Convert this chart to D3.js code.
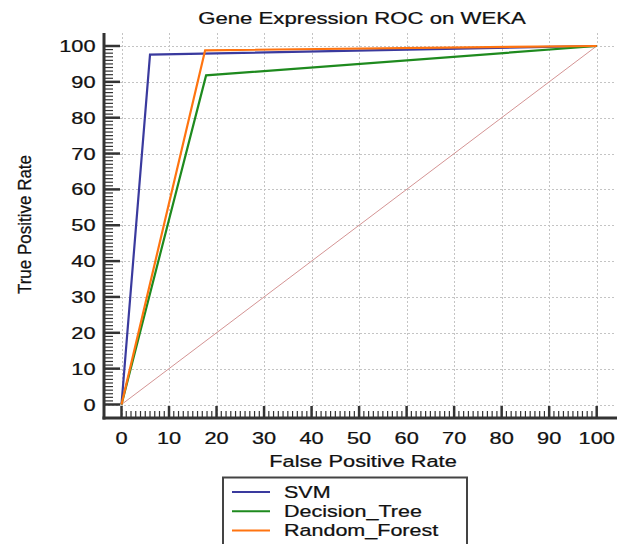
<!DOCTYPE html>
<html>
<head>
<meta charset="utf-8">
<script src="https://cdn.jsdelivr.net/npm/d3@7"></script>
<style>
  html, body { margin: 0; padding: 0; background: #fff; }
  svg { display: block; font-family: "Liberation Sans", Arial, sans-serif; }
  text { fill: #111; stroke: #111; stroke-width: 0.25; }
</style>
</head>
<body>
<svg id="chart" width="626" height="544"></svg>
<script>
// ROC curves (false positive rate %, true positive rate %)
const seriesNames = ["SVM", "Decision_Tree", "Random_Forest"];
const seriesColors = ["#3a3a9e", "#1e8a1e", "#ff7410"];
const svmFpr = [0, 6, 100];
const svmTpr = [0, 97.6, 100];
const treeFpr = [0, 17.8, 100];
const treeTpr = [0, 91.8, 100];
const forestFpr = [0, 17.6, 100];
const forestTpr = [0, 98.8, 100];
const tickValues = [0, 10, 20, 30, 40, 50, 60, 70, 80, 90, 100];

const svg = d3.select("#chart");
const x = d3.scaleLinear().domain([0, 100]).range([121.5, 596.7]);
const y = d3.scaleLinear().domain([0, 100]).range([404.5, 46]);

const axisLeftX = 104, axisBottomY = 418, topY = 33, rightX = 616;
const WIDE = 1.32; // horizontal stretch of the label glyphs

// places a horizontally widened text label at (px, py)
function label(parent, px, py, str, size, anchor) {
  return parent.append("text")
    .attr("transform", `translate(${px},${py}) scale(${WIDE},1)`)
    .attr("text-anchor", anchor || "start")
    .attr("font-size", size)
    .text(str);
}

// dotted grid
const grid = svg.append("g").attr("stroke", "#c4c4c4").attr("stroke-width", 1)
  .attr("stroke-dasharray", "2,2");
grid.selectAll(".gv").data(tickValues).join("line")
  .attr("x1", d => Math.round(x(d)) + 0.5).attr("x2", d => Math.round(x(d)) + 0.5)
  .attr("y1", topY).attr("y2", axisBottomY);
grid.selectAll(".gh").data(tickValues).join("line")
  .attr("y1", d => Math.round(y(d)) + 0.5).attr("y2", d => Math.round(y(d)) + 0.5)
  .attr("x1", axisLeftX).attr("x2", rightX);

// axes: major + minor ticks
const minor = d3.range(0, 101, 1).filter(d => d % 10 !== 0);
const ax = svg.append("g").attr("stroke", "#333");
ax.selectAll(".xm").data(tickValues).join("line")
  .attr("x1", d => x(d)).attr("x2", d => x(d))
  .attr("y1", axisBottomY).attr("y2", axisBottomY - 12).attr("stroke-width", 2.5);
ax.selectAll(".xn").data(minor).join("line")
  .attr("x1", d => x(d)).attr("x2", d => x(d))
  .attr("y1", axisBottomY).attr("y2", axisBottomY - 7).attr("stroke-width", 1.2);
ax.selectAll(".ym").data(tickValues).join("line")
  .attr("y1", d => y(d)).attr("y2", d => y(d))
  .attr("x1", axisLeftX).attr("x2", axisLeftX + 16).attr("stroke-width", 2.5);
ax.selectAll(".yn").data(minor).join("line")
  .attr("y1", d => y(d)).attr("y2", d => y(d))
  .attr("x1", axisLeftX).attr("x2", axisLeftX + 9).attr("stroke-width", 1.2);
ax.append("line").attr("x1", axisLeftX).attr("x2", axisLeftX)
  .attr("y1", topY).attr("y2", axisBottomY + 1.5).attr("stroke-width", 3);
ax.append("line").attr("x1", axisLeftX - 1.5).attr("x2", rightX + 1)
  .attr("y1", axisBottomY).attr("y2", axisBottomY).attr("stroke-width", 3);

// tick labels
const xl = svg.append("g");
tickValues.forEach(d => label(xl, x(d), 443.5, d, 16.5, "middle"));
const yl = svg.append("g");
tickValues.forEach(d => label(yl, 95.5, y(d) + 6, d, 16.5, "end"));

// titles
label(svg, 362, 24, "Gene Expression ROC on WEKA", 16.8, "middle");
label(svg, 363, 467, "False Positive Rate", 16.5, "middle");
svg.append("text").attr("transform", "translate(31,224.5) scale(1.12,1) rotate(-90)")
  .attr("text-anchor", "middle").attr("font-size", 17)
  .text("True Positive Rate");

// chance diagonal
svg.append("line").attr("x1", x(0)).attr("y1", y(0)).attr("x2", x(100)).attr("y2", y(100))
  .attr("stroke", "#d49494").attr("stroke-width", 1);

// ROC curves
const series = [
  { fpr: svmFpr, tpr: svmTpr },
  { fpr: treeFpr, tpr: treeTpr },
  { fpr: forestFpr, tpr: forestTpr }
];
const line = d3.line().x(d => x(d[0])).y(d => y(d[1]));
series.forEach((s, i) => {
  svg.append("path").datum(d3.zip(s.fpr, s.tpr)).attr("d", line)
    .attr("fill", "none").attr("stroke", seriesColors[i]).attr("stroke-width", 2.2)
    .attr("stroke-linejoin", "miter");
});

// legend
const lg = svg.append("g");
lg.append("rect").attr("x", 223).attr("y", 477.5).attr("width", 244).attr("height", 80)
  .attr("fill", "#fff").attr("stroke", "#444").attr("stroke-width", 2);
seriesNames.forEach((name, i) => {
  const yy = 492 + i * 19.3;
  lg.append("line").attr("x1", 232).attr("x2", 270).attr("y1", yy).attr("y2", yy)
    .attr("stroke", seriesColors[i]).attr("stroke-width", 2);
  label(lg, 284, yy + 5.5, name, 16.3, "start");
});
</script>
</body>
</html>
